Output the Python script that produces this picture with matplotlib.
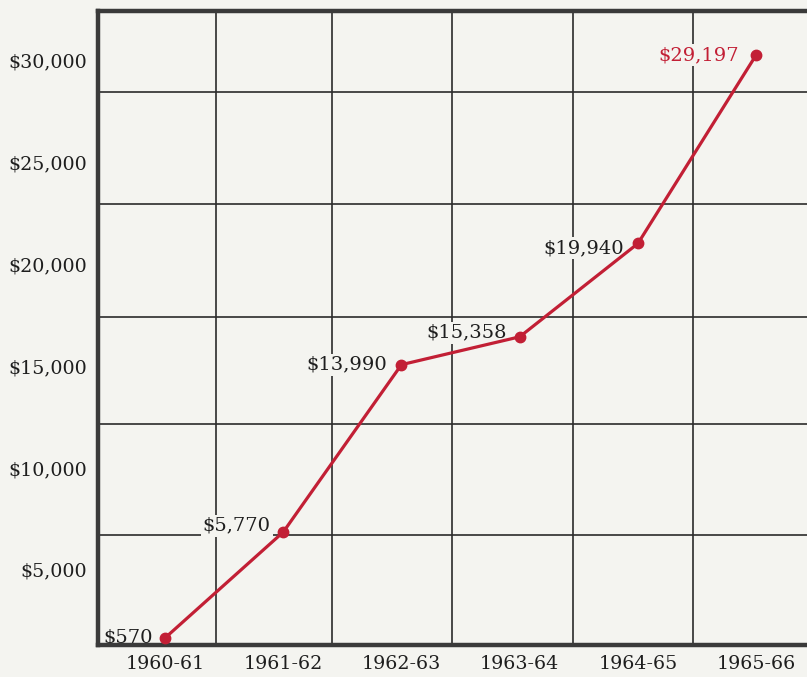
import matplotlib
matplotlib.use("Agg")
import matplotlib.pyplot as plt
import matplotlib.transforms as mtransforms

# values
years = ["1960-61", "1961-62", "1962-63", "1963-64", "1964-65", "1965-66"]
amounts = [570, 5770, 13990, 15358, 19940, 29197]
amount_labels = ["$570", "$5,770", "$13,990", "$15,358", "$19,940", "$29,197"]
ytick_values = [5000, 10000, 15000, 20000, 25000, 30000]
ytick_labels = ["$5,000", "$10,000", "$15,000", "$20,000", "$25,000", "$30,000"]
# rules of the printed grid (they don't line up with the labels or the points)
grid_rows = [5630, 11080, 16330, 21880, 27380]
grid_cols = [0.43, 1.41, 2.43, 3.45, 4.47]

paper = "#f4f4f0"
ink = "#2b2b2b"
red = "#c21f35"

plt.rcParams["font.family"] = ["DejaVu Serif"]

fig = plt.figure(figsize=(8.07, 6.77), dpi=100, facecolor=paper)
ax = fig.add_axes([0.1214, 0.0473, 0.8786, 0.9365], facecolor=paper)

x = list(range(len(years)))
ax.plot(x, amounts, color=red, linewidth=2.3, marker="o", markersize=7.5,
        solid_capstyle="round", zorder=3)

# point labels, on a patch of paper that hides the grid (but not the line) behind them
offsets = [(-9, 0), (-9, 4.5), (-10, 0), (-9, 3), (-10, -3.5), (-12, 0)]
for i, (v, lab) in enumerate(zip(amounts, amount_labels)):
    col = red if i == len(amounts) - 1 else "#1e1e1e"
    ax.annotate(lab, (x[i], v), xytext=offsets[i], textcoords="offset points",
                ha="right", va="center", fontsize=14, color=col, zorder=2,
                bbox=dict(boxstyle="square,pad=0.1", fc=paper, ec="none"))

ax.set_xlim(-0.567, 5.43)
ax.set_ylim(226, 31357)

ax.set_xticks(x)
ax.set_xticklabels(years)
ax.set_xticks(grid_cols, minor=True)
ax.set_yticks(ytick_values)
ax.set_yticklabels(ytick_labels)
ax.set_yticks(grid_rows, minor=True)
ax.grid(True, which="minor", color=ink, linewidth=1.2)
ax.grid(False, which="major")

ax.tick_params(which="both", length=0)
ax.tick_params(axis="x", pad=7, labelsize=13.7, colors="#1e1e1e")
ax.tick_params(axis="y", pad=8, labelsize=13.7, colors="#1e1e1e")

# labels in the print sit lower than the scale would put them
shift = mtransforms.ScaledTranslation(0, -22 / 100, fig.dpi_scale_trans)
for t in ax.get_yticklabels():
    t.set_transform(t.get_transform() + shift)

for side in ["left", "top", "bottom"]:
    ax.spines[side].set_color("#3a3a3a")
    ax.spines[side].set_linewidth(3.2)
ax.spines["right"].set_visible(False)

fig.savefig("out.png", dpi=100, facecolor=paper)
